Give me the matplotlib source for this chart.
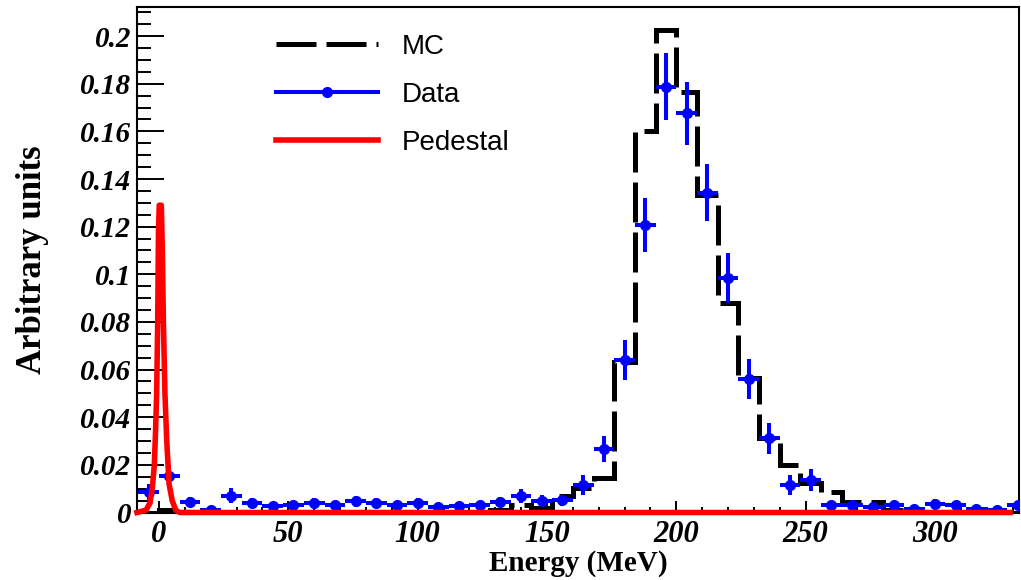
import numpy as np
import matplotlib
matplotlib.use("Agg")
import matplotlib.pyplot as plt
from matplotlib.ticker import MultipleLocator, FixedLocator, FixedFormatter
from matplotlib.font_manager import FontProperties
from matplotlib.lines import Line2D

# Histogram binning (MeV)
bin_width = 8.0
first_edge = -8.0

# Simulated energy spectrum, one value per 8 MeV bin starting at -8 MeV
mc_counts = [
    0.0, 0.0010, 0.0, 0.0, 0.0, 0.0, 0.0, 0.0, 0.0, 0.0,
    0.0, 0.0, 0.0, 0.0, 0.0, 0.0, 0.0, 0.0010, 0.0030, 0.0020,
    0.0070, 0.0103, 0.0144, 0.0633, 0.1600, 0.2026, 0.1767, 0.1333, 0.0878, 0.0565,
    0.0313, 0.0199, 0.0124, 0.0087, 0.0045, 0.0045, 0.0010, 0.0, 0.0, 0.0,
    0.0, 0.0, 0.0,
]

# Measured spectrum in the same bins
data_counts = [
    0.0085, 0.0153, 0.0045, 0.0010, 0.0071, 0.0040, 0.0027, 0.0030, 0.0039, 0.0031,
    0.0047, 0.0039, 0.0031, 0.0040, 0.0024, 0.0026, 0.0031, 0.0045, 0.0069, 0.0050,
    0.0051, 0.0115, 0.0265, 0.0640, 0.1207, 0.1788, 0.1676, 0.1343, 0.0983, 0.0559,
    0.0311, 0.0115, 0.0136, 0.0030, 0.0030, 0.0025, 0.0030, 0.0015, 0.0035, 0.0030,
    0.0015, 0.0010, 0.0030,
]
data_errors = [
    0.0035, 0.0045, 0.0022, 0.0010, 0.0030, 0.0021, 0.0017, 0.0018, 0.0021, 0.0018,
    0.0022, 0.0021, 0.0018, 0.0021, 0.0016, 0.0017, 0.0018, 0.0022, 0.0031, 0.0023,
    0.0024, 0.0042, 0.0055, 0.0084, 0.0115, 0.0140, 0.0133, 0.0120, 0.0105, 0.0084,
    0.0064, 0.0042, 0.0045, 0.0018, 0.0018, 0.0016, 0.0018, 0.0013, 0.0020, 0.0018,
    0.0013, 0.0010, 0.0018,
]

# Pedestal shape (energy in MeV, level)
pedestal_energy = [-8.5, -5.0, -3.5, -2.6, -1.8, -1.3, -0.9, -0.5, -0.2, 0.1,
                   0.9, 1.3, 1.7, 2.3, 3.0, 3.9, 5.1, 6.5, 8.0, 329.0]
pedestal_level = [0.0, 0.001, 0.004, 0.010, 0.020, 0.035, 0.050, 0.080, 0.118, 0.129,
                  0.129, 0.110, 0.080, 0.050, 0.030, 0.012, 0.005, 0.001, 0.0, 0.0]

x_ticks = [0, 50, 100, 150, 200, 250, 300]
x_tick_labels = ["0", "50", "100", "150", "200", "250", "300"]
y_ticks = [0.0, 0.02, 0.04, 0.06, 0.08, 0.10, 0.12, 0.14, 0.16, 0.18, 0.20]
y_tick_labels = ["0", "0.02", "0.04", "0.06", "0.08", "0.1", "0.12", "0.14",
                 "0.16", "0.18", "0.2"]

series_labels = ["MC", "Data", "Pedestal"]

# ---------------------------------------------------------------------------
W, H, DPI = 1021, 580, 100
fig = plt.figure(figsize=(W / DPI, H / DPI), dpi=DPI)
ax = fig.add_axes([137 / W, 1 - 512.5 / H, 882 / W, 505.2 / H])

edges = first_edge + bin_width * np.arange(len(mc_counts) + 1)
centers = 0.5 * (edges[:-1] + edges[1:])

mc_style = dict(color="black", linewidth=3.6, linestyle=(0, (8, 2)))
data_style = dict(color="blue", linewidth=2.9)
ped_style = dict(color="red", linewidth=4.0)

ax.stairs(mc_counts, edges, baseline=0, zorder=2, **mc_style)

ax.errorbar(centers, data_counts, yerr=data_errors, xerr=bin_width / 2,
            fmt="o", markersize=7, color="blue", ecolor="blue",
            elinewidth=data_style["linewidth"], capsize=0, zorder=3)

ax.plot(pedestal_energy, pedestal_level, zorder=4, clip_on=False, **ped_style)

ax.set_xlim(-8.5, 332.5)
ax.set_ylim(0, 0.2121)

ax.xaxis.set_major_locator(FixedLocator(x_ticks))
ax.xaxis.set_major_formatter(FixedFormatter(x_tick_labels))
ax.xaxis.set_minor_locator(MultipleLocator(10))
ax.yaxis.set_major_locator(FixedLocator(y_ticks))
ax.yaxis.set_major_formatter(FixedFormatter(y_tick_labels))
ax.yaxis.set_minor_locator(MultipleLocator(0.005))
for lab in ax.get_xticklabels():
    lab.set_fontproperties(FontProperties(family="Liberation Serif", weight="bold",
                                          style="italic", size=22))
for lab in ax.get_yticklabels():
    lab.set_fontproperties(FontProperties(family="Liberation Serif", weight="bold",
                                          style="italic", size=21))

ax.tick_params(axis="x", which="major", direction="in", length=8.6, width=1.4, pad=5.5)
ax.tick_params(axis="x", which="minor", direction="in", length=4.3, width=1.4)
ax.tick_params(axis="y", which="major", direction="in", length=19.4, width=1.4, pad=4)
ax.tick_params(axis="y", which="minor", direction="in", length=10.0, width=1.4)
for sp in ax.spines.values():
    sp.set_linewidth(1.5)

ax.set_xlabel("Energy (MeV)", family="Liberation Serif", weight="bold", size=21)
ax.set_ylabel("Arbitrary units", family="Liberation Serif", weight="bold", size=25)
ax.xaxis.set_label_coords(0.5, -0.075)
ax.yaxis.set_label_coords(-0.100, 0.5)

handles = [
    Line2D([], [], **mc_style),
    Line2D([], [], marker="o", markersize=7, **data_style),
    Line2D([], [], **ped_style),
]
ax.legend(handles, series_labels, loc="upper left", bbox_to_anchor=(0.158, 0.947),
          frameon=False, borderpad=0, borderaxespad=0, handlelength=3.67,
          handletextpad=0.83, labelspacing=0.79,
          prop=dict(family="Liberation Sans", size=20))

fig.savefig("out.png", dpi=DPI)
